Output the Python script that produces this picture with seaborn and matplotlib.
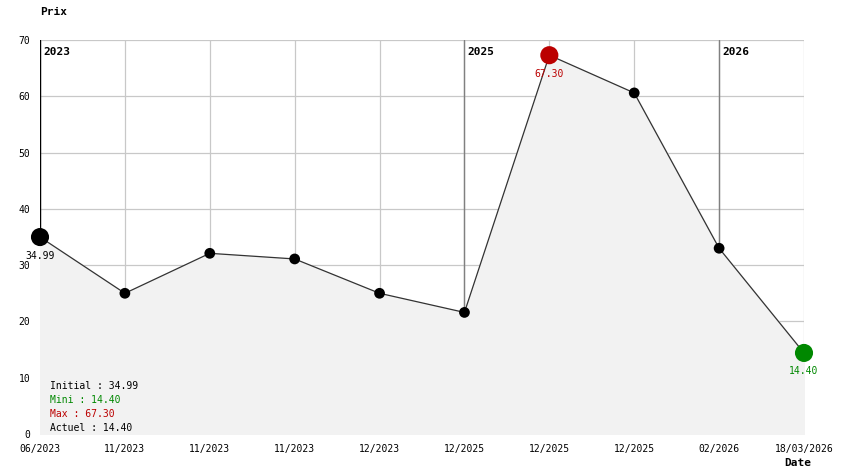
import matplotlib
matplotlib.use('Agg')
import matplotlib.pyplot as plt
import seaborn as sns
import pandas as pd

# === Données
dates = ['06/2023', '11/2023', '11/2023', '11/2023', '12/2023',
         '12/2025', '12/2025', '12/2025', '02/2026', '18/03/2026']
prix = [34.99, 25.0, 32.1, 31.1, 25.0, 21.6, 67.3, 60.6, 33.0, 14.4]
annees = ['2023', '2025', '2026']
annees_pos = [0, 5, 8]

df = pd.DataFrame({'x': range(len(prix)), 'prix': prix})

sns.set_theme(style='white')
plt.rcParams['font.family'] = ['DejaVu Sans Mono']
plt.rcParams['font.size'] = 7

fig = plt.figure(figsize=(8.44, 4.74), dpi=100)
ax = fig.add_axes([40/844, 1 - 434/474, 764/844, 394/474])

# grille
for v in range(10, 80, 10):
    ax.axhline(v, color='#c8c8c8', lw=0.9, zorder=0)
for i in range(len(prix)):
    ax.axvline(i, color='#c8c8c8', lw=0.9, zorder=0)
for p, a in zip(annees_pos, annees):
    ax.axvline(p, color='#000000' if p == 0 else '#808080', lw=1.0, zorder=1)
    ax.text(p + 0.04, 68.8, a, fontweight='bold', fontsize=8, va='top', ha='left', color='black')

ax.fill_between(df['x'], df['prix'], 0, color='#f2f2f2', zorder=1)
sns.lineplot(data=df, x='x', y='prix', color='#333333', lw=0.9, ax=ax, zorder=2)
sns.scatterplot(data=df.iloc[1:-1].drop(6), x='x', y='prix', color='black', s=60,
                edgecolor='none', ax=ax, zorder=3)

i_min = prix.index(min(prix))
i_max = prix.index(max(prix))
for i, c in [(0, 'black'), (i_max, '#bb0000'), (i_min, '#008800')]:
    ax.scatter([i], [prix[i]], s=170, color=c, zorder=4, edgecolor='none', clip_on=False)
    ax.text(i, prix[i] - 2.4, f'{prix[i]:.2f}', ha='center', va='top', color=c)

# légende
ax.text(0.12, 8.6, f'Initial : {prix[0]:.2f}', color='black', va='center')
ax.text(0.12, 6.1, f'Mini : {min(prix):.2f}', color='#008800', va='center')
ax.text(0.12, 3.6, f'Max : {max(prix):.2f}', color='#bb0000', va='center')
ax.text(0.12, 1.1, f'Actuel : {prix[-1]:.2f}', color='black', va='center')

ax.set_xlim(0, len(prix) - 1)
ax.set_ylim(0, 70)
ax.set_xticks(range(len(prix)))
ax.set_xticklabels(dates)
ax.set_yticks(range(0, 80, 10))
ax.tick_params(length=0, labelsize=7, pad=7, labelcolor='black')
ax.set_xlabel('')
ax.set_ylabel('')
for s in ax.spines.values():
    s.set_visible(False)

fig.text(40/844, 1 - 12/474, 'Prix', fontweight='bold', fontsize=8, va='center', ha='left', color='black')
fig.text(784/844, 1 - 463/474, 'Date', fontweight='bold', fontsize=8, va='center', ha='left', color='black')

fig.savefig('out.png', dpi=100)
